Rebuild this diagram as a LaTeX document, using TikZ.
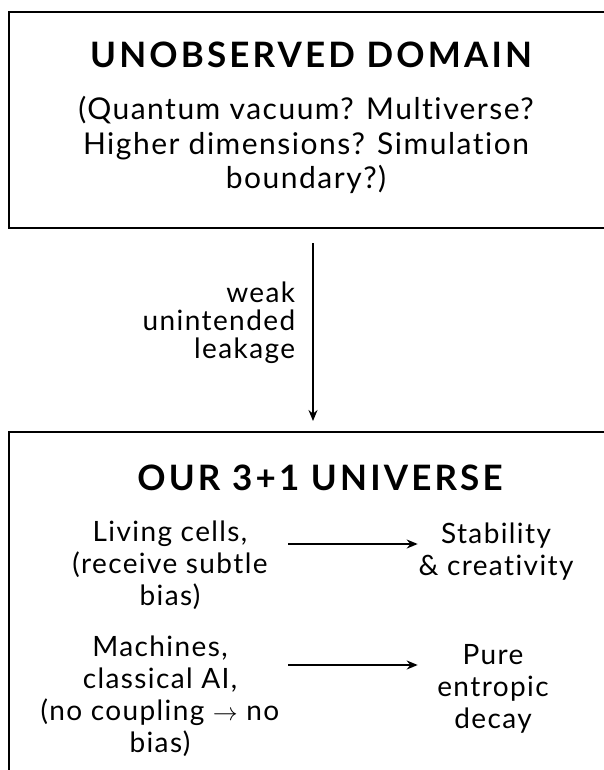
\documentclass[tikz,border=0pt]{standalone}
\usepackage{fontspec}
\setmainfont{Lato}[Ligatures=NoCommon, LetterSpace=5]
\usetikzlibrary{arrows.meta}

\begin{document}
\begin{tikzpicture}[x=1pt, y=-1pt, line width=1.6pt, >={Stealth[length=11pt, width=9pt]},
  txt/.style={align=center, inner sep=0, font=\fontsize{28}{32}\selectfont},
  head/.style={inner sep=0, font=\fontsize{35}{40}\selectfont\bfseries\addfontfeature{LetterSpace=9}},
  frame/.style={draw, line width=2pt, minimum width=608pt}]
\path[use as bounding box, fill=white] (0,0) rectangle (604,770);
\clip (0,0) rectangle (604,770);

% the two domains
\node[frame, minimum height=216pt] (outer) at (313,120) {};
\node[frame, minimum height=370pt] (ours) at (313,617) {};

\node[head] (domain) at (311,55) {UNOBSERVED DOMAIN};
\node[txt, font=\fontsize{30}{34.5}\selectfont] (guess) at (306,145) {(Quantum vacuum? Multiverse?\\Higher dimensions? Simulation\hspace*{.5em}\\boundary?)};

\draw[->, shorten <=14pt, shorten >=10pt] (outer.south) -- (ours.north);
\node[txt, align=right, anchor=east, font=\fontsize{28}{28}\selectfont] (leak) at (296,323) {weak\\unintended\\leakage};

\node[head] (universe) at (320,478) {OUR 3+1 UNIVERSE};
\node[txt] (cells) at (170,565) {Living cells,\\(receive subtle\\bias)};
\node[txt] (stab) at (496,552) {Stability\\\& creativity};
\node[txt] (mach) at (160,696) {Machines,\\classical AI,\\(no coupling $\to$ no\\bias)};
\node[txt] (pure) at (493,689) {Pure\\entropic\\decay};

\draw[->, shorten <=8pt] ([yshift=8pt]stab.west -| mach.east) -- ([yshift=8pt]stab.west);
\draw[->, shorten <=8pt] ([yshift=24pt]pure.west -| mach.east) -- ([yshift=24pt]pure.west -| stab.west);
\end{tikzpicture}
\end{document}
